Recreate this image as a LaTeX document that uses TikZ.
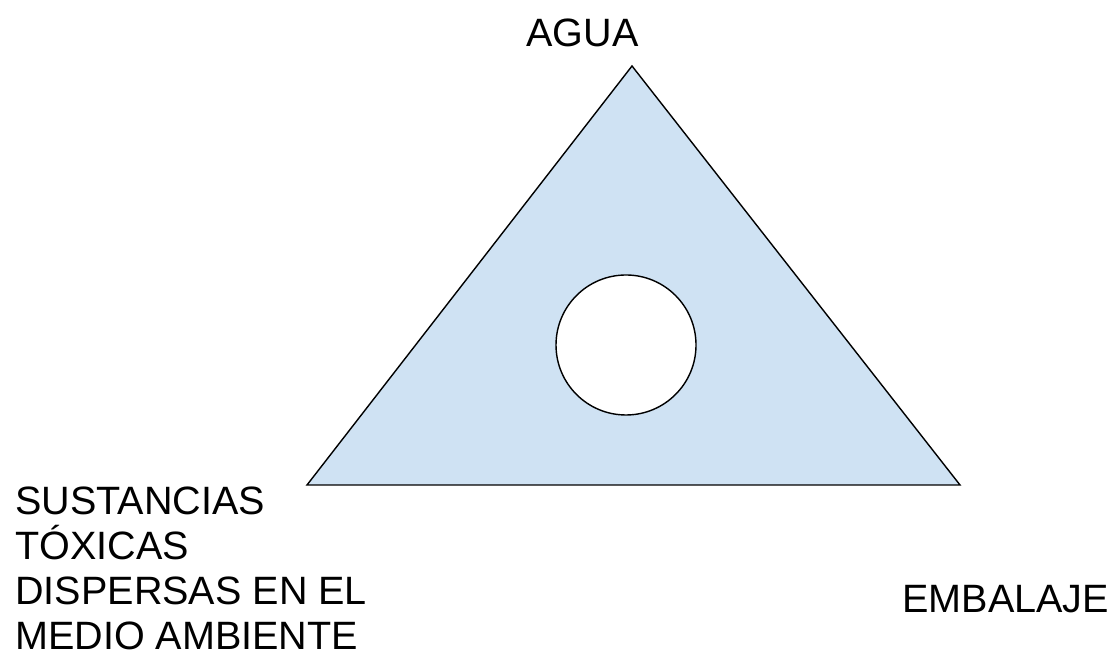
\documentclass[tikz,border=0pt]{standalone}
\usepackage{fontspec}
\setmainfont{Liberation Sans}
\usepackage{tikz}
\usetikzlibrary{calc}
\definecolor{paleblue}{HTML}{CFE2F3}

\begin{document}
\begin{tikzpicture}
\useasboundingbox (0,0) rectangle (22.18,13.06);
\tikzset{label text/.style={font=\fontsize{22.5}{25.6}\selectfont, inner sep=0pt}}

\coordinate (top) at (12.64,11.74);
\coordinate (left) at (6.14,3.36);
\coordinate (right) at (19.2,3.36);
\draw[fill=paleblue, line width=0.8pt, line join=miter] (top) -- (left) -- (right) -- cycle;
\node[circle, draw, fill=white, line width=0.8pt, minimum size=2.8cm, inner sep=0pt] (hole) at (12.52,6.16) {};

\node[label text, anchor=base] (agua) at (11.65,12.12) {AGUA};
\node[label text, anchor=base west] (embalaje) at (18.04,0.8) {EMBALAJE};
\node[label text, anchor=north west, align=left] (toxicas) at (0.3,3.32)
  {SUSTANCIAS\\T\'OXICAS\\DISPERSAS EN EL\\MEDIO AMBIENTE};
\end{tikzpicture}
\end{document}
